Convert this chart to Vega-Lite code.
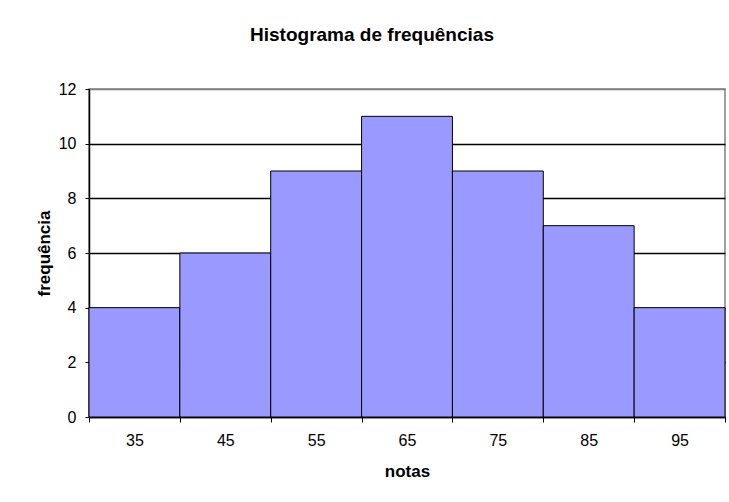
{
  "$schema": "https://vega.github.io/schema/vega-lite/v6.json",
  "width": 636,
  "height": 328,
  "autosize": {"type": "none"},
  "padding": {"left": 89, "top": 89, "right": 4, "bottom": 85},
  "background": "white",
  "config": {
    "font": "Liberation Sans",
    "view": {"stroke": "#808080", "strokeWidth": 1.5}
  },
  "title": {
    "text": "Histograma de frequências",
    "font": "Liberation Sans",
    "fontSize": 19,
    "fontWeight": "bold",
    "color": "black",
    "anchor": "middle",
    "frame": "group",
    "baseline": "alphabetic",
    "dx": -35,
    "offset": 21
  },
  "data": {
    "values": [
      {"nota": "35", "freq": 4},
      {"nota": "45", "freq": 6},
      {"nota": "55", "freq": 9},
      {"nota": "65", "freq": 11},
      {"nota": "75", "freq": 9},
      {"nota": "85", "freq": 7},
      {"nota": "95", "freq": 4}
    ]
  },
  "mark": {"type": "bar", "fill": "#9999FF", "stroke": "black", "strokeWidth": 1},
  "encoding": {
    "x": {
      "field": "nota",
      "type": "ordinal",
      "sort": null,
      "scale": {"paddingInner": 0, "paddingOuter": 0},
      "axis": {
        "title": "notas",
        "titleFont": "Liberation Sans",
        "titleFontSize": 17,
        "titleFontWeight": "bold",
        "titleColor": "black",
        "titlePadding": 15,
        "labelAngle": 0,
        "labelFont": "Liberation Sans",
        "labelFontSize": 16,
        "labelColor": "black",
        "labelPadding": 10,
        "tickBand": "extent",
        "tickColor": "black",
        "tickSize": 5,
        "domainColor": "black",
        "domainWidth": 1.5,
        "grid": false
      }
    },
    "y": {
      "field": "freq",
      "type": "quantitative",
      "scale": {"domain": [0, 12], "nice": false},
      "axis": {
        "values": [0, 2, 4, 6, 8, 10, 12],
        "title": "frequência",
        "titleFont": "Liberation Sans",
        "titleFontSize": 17,
        "titleFontWeight": "bold",
        "titleColor": "black",
        "titlePadding": 5,
        "labelFont": "Liberation Sans",
        "labelFontSize": 16,
        "labelColor": "black",
        "labelPadding": 9,
        "tickColor": "black",
        "tickSize": 4,
        "domainColor": "black",
        "domainWidth": 1.5,
        "grid": true,
        "gridColor": {"condition": {"test": "datum.value == 12", "value": "#808080"}, "value": "black"},
        "gridOpacity": 1,
        "gridWidth": 1.5
      }
    }
  }
}
